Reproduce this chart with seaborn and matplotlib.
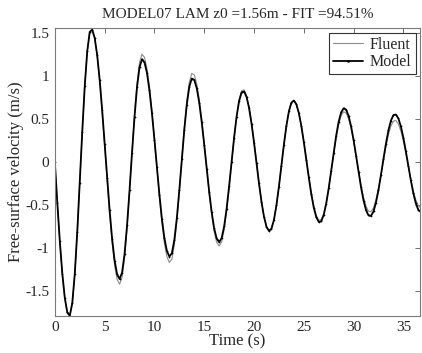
import numpy as np
import pandas as pd
import matplotlib
matplotlib.use("Agg")
import matplotlib.pyplot as plt
from matplotlib.ticker import FuncFormatter
import seaborn as sns

# Sampling grid (s)
time_s = np.arange(148) * 0.25

# Free-surface velocity (m/s) from the CFD run
fluent = [
    0.000, -0.482, -0.928, -1.307, -1.590, -1.758, -1.796, -1.648, -1.309, -0.819,
    -0.242, 0.350, 0.884, 1.289, 1.517, 1.546, 1.446, 1.241, 0.948, 0.588,
    0.190, -0.217, -0.603, -0.940, -1.200, -1.364, -1.420, -1.341, -1.114, -0.767,
    -0.337, 0.122, 0.557, 0.918, 1.161, 1.259, 1.222, 1.091, 0.877, 0.596,
    0.271, -0.072, -0.406, -0.704, -0.942, -1.100, -1.168, -1.128, -0.963, -0.691,
    -0.345, 0.034, 0.402, 0.712, 0.933, 1.035, 1.018, 0.915, 0.737, 0.498,
    0.220, -0.073, -0.359, -0.609, -0.808, -0.932, -0.975, -0.927, -0.786, -0.569,
    -0.299, -0.003, 0.287, 0.539, 0.728, 0.832, 0.844, 0.780, 0.650, 0.466,
    0.242, 0.001, -0.240, -0.456, -0.631, -0.749, -0.799, -0.774, -0.672, -0.503,
    -0.284, -0.040, 0.204, 0.423, 0.592, 0.694, 0.719, 0.676, 0.576, 0.428,
    0.244, 0.041, -0.165, -0.354, -0.510, -0.620, -0.675, -0.668, -0.598, -0.472,
    -0.302, -0.106, 0.096, 0.284, 0.439, 0.544, 0.589, 0.573, 0.506, 0.393,
    0.245, 0.076, -0.101, -0.267, -0.409, -0.513, -0.570, -0.576, -0.529, -0.435,
    -0.303, -0.145, 0.022, 0.183, 0.321, 0.424, 0.480, 0.486, 0.445, 0.362,
    0.244, 0.102, -0.051, -0.201, -0.335, -0.440, -0.507, -0.530,
]

# Free-surface velocity (m/s) from the reduced model
model = [
    0.000, -0.479, -0.923, -1.300, -1.581, -1.748, -1.786, -1.639, -1.300, -0.812,
    -0.237, 0.354, 0.886, 1.290, 1.517, 1.546, 1.448, 1.248, 0.960, 0.608,
    0.218, -0.182, -0.560, -0.890, -1.145, -1.305, -1.360, -1.285, -1.068, -0.736,
    -0.325, 0.113, 0.529, 0.873, 1.106, 1.199, 1.164, 1.040, 0.837, 0.571,
    0.264, -0.061, -0.377, -0.659, -0.884, -1.034, -1.098, -1.060, -0.905, -0.649,
    -0.323, 0.033, 0.380, 0.672, 0.880, 0.975, 0.959, 0.861, 0.693, 0.466,
    0.203, -0.075, -0.346, -0.583, -0.771, -0.889, -0.930, -0.883, -0.748, -0.539,
    -0.278, 0.008, 0.287, 0.530, 0.712, 0.813, 0.824, 0.761, 0.632, 0.451,
    0.230, -0.009, -0.246, -0.461, -0.633, -0.750, -0.799, -0.774, -0.672, -0.503,
    -0.284, -0.040, 0.204, 0.423, 0.592, 0.694, 0.719, 0.676, 0.574, 0.423,
    0.237, 0.031, -0.177, -0.369, -0.528, -0.639, -0.695, -0.688, -0.614, -0.482,
    -0.304, -0.099, 0.113, 0.310, 0.472, 0.581, 0.629, 0.612, 0.539, 0.418,
    0.259, 0.076, -0.114, -0.293, -0.446, -0.558, -0.620, -0.625, -0.573, -0.469,
    -0.322, -0.147, 0.040, 0.218, 0.372, 0.486, 0.549, 0.556, 0.510, 0.417,
    0.285, 0.126, -0.044, -0.212, -0.362, -0.479, -0.554, -0.580,
]

x_ticks = [0, 5, 10, 15, 20, 25, 30, 35]
y_ticks = [-1.5, -1, -0.5, 0, 0.5, 1, 1.5]

df = pd.DataFrame({"Time": time_s, "Fluent": fluent, "Model": model})

sns.set_style("white")
plt.rcParams["font.family"] = ["Liberation Serif", "DejaVu Serif"]

fig = plt.figure(figsize=(4.22, 3.53), dpi=100)
ax = fig.add_axes([0.130, 0.105, 0.866, 0.816])

sns.lineplot(data=df, x="Time", y="Fluent", ax=ax, color="#8c8c8c",
             linewidth=0.8, label="Fluent")
sns.lineplot(data=df, x="Time", y="Model", ax=ax, color="black",
             linewidth=1.3, marker=".", markersize=2.5, markeredgewidth=0,
             label="Model")

ax.set_xlim(0, 36.7)
ax.set_ylim(-1.79, 1.565)
ax.set_xticks(x_ticks)
ax.set_yticks(y_ticks)
ax.yaxis.set_major_formatter(FuncFormatter(lambda v, p: f"{v:g}"))

ax.tick_params(direction="in", length=3.5, width=0.6, color="#555555",
               labelsize=11, top=True, right=True, pad=4)
for s in ax.spines.values():
    s.set_visible(True)
    s.set_color("#7a7a7a")
    s.set_linewidth(0.8)

ax.set_title("MODEL07 LAM z0 =1.56m - FIT =94.51%", fontsize=11, pad=7)
ax.set_xlabel("Time (s)", fontsize=12, labelpad=-1)
ax.set_ylabel("Free-surface velocity (m/s)", fontsize=12, labelpad=1)

leg = ax.legend(loc="upper right", fontsize=11.5, frameon=True, fancybox=False,
                edgecolor="#333333", framealpha=1, handlelength=1.9,
                borderpad=0.25, labelspacing=0.1, handletextpad=0.4,
                borderaxespad=0.3, markerscale=1.5)
leg.get_frame().set_linewidth(0.8)

fig.savefig("out.png", dpi=100)
